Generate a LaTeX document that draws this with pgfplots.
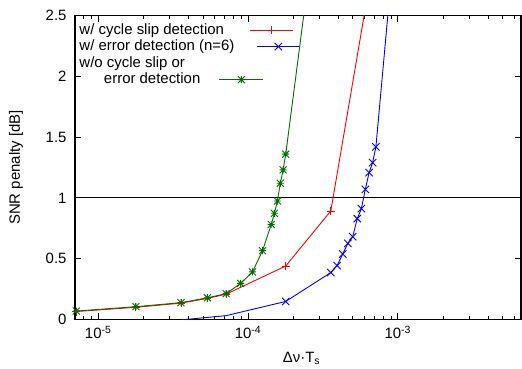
\documentclass[border=0pt]{standalone}
\usepackage{pgfplots}
\pgfplotsset{compat=1.18}
\usepackage{fontspec}
\setmainfont{Liberation Sans}
\definecolor{gdark}{RGB}{0,110,0}
\definecolor{rred}{RGB}{255,0,0}
\definecolor{bblue}{RGB}{0,0,255}
\pgfdeclareplotmark{gpstar}{%
  \pgfpathmoveto{\pgfqpoint{-\pgfplotmarksize}{0pt}}\pgfpathlineto{\pgfqpoint{\pgfplotmarksize}{0pt}}%
  \pgfpathmoveto{\pgfqpoint{0pt}{-\pgfplotmarksize}}\pgfpathlineto{\pgfqpoint{0pt}{\pgfplotmarksize}}%
  \pgfpathmoveto{\pgfqpoint{-\pgfplotmarksize}{-\pgfplotmarksize}}\pgfpathlineto{\pgfqpoint{\pgfplotmarksize}{\pgfplotmarksize}}%
  \pgfpathmoveto{\pgfqpoint{-\pgfplotmarksize}{\pgfplotmarksize}}\pgfpathlineto{\pgfqpoint{\pgfplotmarksize}{-\pgfplotmarksize}}%
  \pgfusepathqstroke}
\pgfplotsset{
  redimg/.style={legend image code/.code={\pgfinterruptboundingbox
    \draw[##1,mark=none,draw=rred,line width=1.1bp] (16bp,4bp) -- (59bp,4bp);
    \draw[##1,only marks,mark indices={1},draw=rred] plot coordinates {(37bp,4bp)};\endpgfinterruptboundingbox}},
  blueimg/.style={legend image code/.code={\pgfinterruptboundingbox
    \draw[##1,mark=none,draw=bblue,line width=1.1bp] (23bp,4bp) -- (65bp,4bp);
    \draw[##1,only marks,mark indices={1},draw=bblue] plot coordinates {(44bp,4bp)};\endpgfinterruptboundingbox}},
  greenimg/.style={legend image code/.code={\pgfinterruptboundingbox
    \draw[##1,mark=none,draw=gdark,line width=1.1bp] (-15bp,4bp) -- (29bp,4bp);
    \draw[##1,only marks,mark indices={1},draw=gdark] plot coordinates {(7bp,4bp)};\endpgfinterruptboundingbox}},
}
\begin{document}
\begin{tikzpicture}[font=\fontsize{15}{17}\selectfont]
\begin{axis}[
  scale only axis, width=446bp, height=303.6bp,
  xmode=log, xmin=7e-6, xmax=6.64e-3, ymin=0, ymax=2.5,
  xtick={1e-5,1e-4,1e-3},
  xticklabels={10\textsuperscript{-5},10\textsuperscript{-4},10\textsuperscript{-3}},
  minor xtick={7e-6,8e-6,9e-6,2e-5,3e-5,4e-5,5e-5,6e-5,7e-5,8e-5,9e-5,2e-4,3e-4,4e-4,5e-4,6e-4,7e-4,8e-4,9e-4,2e-3,3e-3,4e-3,5e-3,6e-3},
  ytick={0,0.5,1,1.5,2,2.5}, yticklabels={0,0.5,1,1.5,2,2.5},
  tick align=inside, major tick length=6bp, minor tick length=3.5bp,
  tick style={black, line width=0.8bp},
  axis line style={line width=1.1bp},
  yticklabel style={xshift=-5bp},
  xticklabel style={yshift=-3bp},
  xlabel={Δν·T\textsubscript{s}},
  ylabel={SNR penalty [dB]},
  xlabel style={at={(rel axis cs:0.5,0)}, anchor=base, yshift=-43.4bp, xshift=3.5bp},
  ylabel style={yshift=16bp},
  legend style={at={(rel axis cs:0,1)}, anchor=north west, xshift=4.5bp, yshift=-6bp,
    draw=none, fill=none, inner sep=0pt, outer sep=0pt, column sep=0pt, row sep=0pt,
    nodes={inner xsep=0pt, inner ysep=1bp, text height=11.5bp, text depth=3bp, anchor=base west}},
  legend cell align=left, legend plot pos=right,
]
\coordinate (sw) at (rel axis cs:0,0);
\coordinate (ne) at (rel axis cs:1,1);
\addplot[black, line width=1bp, forget plot] coordinates {(7e-6,1) (6.64e-3,1)};

\addplot[rred, line width=0.9bp, mark=+, mark size=4bp, mark indices={1,2,3,4,5,6,7}, redimg]
coordinates {
(7.14e-6,0.064) (1.786e-5,0.099) (3.57e-5,0.133) (5.36e-5,0.172) (7.14e-5,0.207)
(1.786e-4,0.439) (3.57e-4,0.892) (7.14e-4,3.07)
};
\addlegendentry{w/ cycle slip detection}

\addplot[bblue, line width=0.9bp, mark=x, mark size=5.2bp, mark indices={2,3,4,5,6,7,8,9,10,11,12,13,14}, blueimg]
coordinates {
(3.57e-5,-0.005) (7.14e-5,0.03) (1.786e-4,0.147) (3.57e-4,0.385) (3.93e-4,0.442)
(4.29e-4,0.538) (4.64e-4,0.626) (5.0e-4,0.68) (5.36e-4,0.829) (5.71e-4,0.911)
(6.07e-4,1.07) (6.43e-4,1.208) (6.79e-4,1.29) (7.14e-4,1.42) (8.93e-4,2.74)
};
\addlegendentry{w/ error detection (n=6)}

\addlegendimage{empty legend}
\addlegendentry{w/o cycle slip or}

\addplot[gdark, line width=0.9bp, mark=gpstar, mark size=3.5bp, mark indices={1,2,3,4,5,6,7,8,9,10,11,12,13,14}, greenimg]
coordinates {
(7.14e-6,0.068) (1.786e-5,0.104) (3.57e-5,0.137) (5.36e-5,0.177) (7.14e-5,0.211)
(8.93e-5,0.296) (1.071e-4,0.39) (1.25e-4,0.565) (1.429e-4,0.78) (1.5e-4,0.873)
(1.571e-4,0.974) (1.643e-4,1.12) (1.714e-4,1.23) (1.786e-4,1.36) (2.5e-4,2.75)
};
\addlegendentry{\hspace*{24.5bp}error detection}
\end{axis}
\pgfresetboundingbox
\path[use as bounding box] ([xshift=-75bp,yshift=-49.7bp]sw) rectangle ([xshift=1bp,yshift=15.7bp]ne);
\end{tikzpicture}
\end{document}
